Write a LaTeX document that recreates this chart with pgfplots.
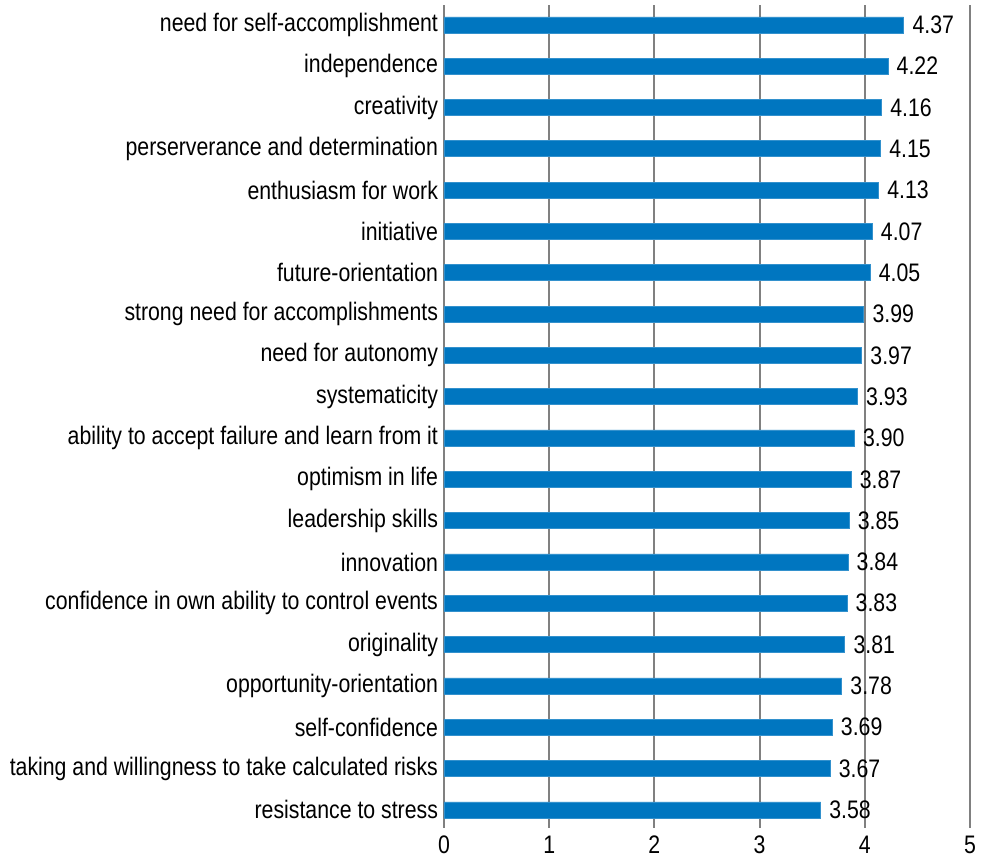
\documentclass[border=0pt]{standalone}
\usepackage{fontspec}
\setmainfont{Liberation Sans}[FakeStretch=0.84]
\usepackage{pgfplots}
\pgfplotsset{compat=1.18}
\definecolor{barblue}{RGB}{0,118,192}
\definecolor{gridgray}{RGB}{128,128,128}
\begin{document}
\begin{tikzpicture}[x=1pt,y=1pt]
\begin{axis}[
  scale only axis,
  width=394.5pt, height=617.25pt,
  xbar, bar width=12pt,
  xmin=0, xmax=5,
  ymin=-0.48, ymax=19.44,
  y dir=reverse,
  xtick={0,1,2,3,4,5},
  ytick={0,...,19},
  yticklabels={need for self-accomplishment, independence, creativity, perserverance and determination, enthusiasm for work, initiative, future-orientation, strong need for accomplishments, need for autonomy, systematicity, ability to accept failure and learn from it, optimism in life, leadership skills, innovation, confidence in own ability to control events, originality, opportunity-orientation, self-confidence, taking and willingness to take calculated risks, resistance to stress},
  major tick length=0pt,
  axis line style={draw=none},
  xmajorgrids, x grid style={gridgray, line width=1.4pt},
  ymajorgrids=false,
  /pgf/number format/assume math mode=true,
  tick label style={font=\fontsize{19}{21}\selectfont, text=black},
  yticklabel style={xshift=-1pt},
  xticklabel style={yshift=-2.5pt},
  nodes near coords,
  nodes near coords style={font=\fontsize{19}{21}\selectfont, text=black, anchor=west, xshift=3pt, /pgf/number format/.cd, fixed, precision=2, zerofill, assume math mode=true},
]
\addplot[fill=barblue, draw=barblue!80!white, line width=0.5pt] coordinates {
(4.37,0) (4.22,1) (4.16,2) (4.15,3) (4.13,4) (4.07,5) (4.05,6) (3.99,7) (3.97,8) (3.93,9)
(3.90,10) (3.87,11) (3.85,12) (3.84,13) (3.83,14) (3.81,15) (3.78,16) (3.69,17) (3.67,18) (3.58,19)
};
\end{axis}
\pgfresetboundingbox
\path[use as bounding box] ([xshift=-333pt,yshift=-24.75pt]current axis.south west) rectangle ([xshift=9pt,yshift=3.75pt]current axis.north east);
\end{tikzpicture}
\end{document}
